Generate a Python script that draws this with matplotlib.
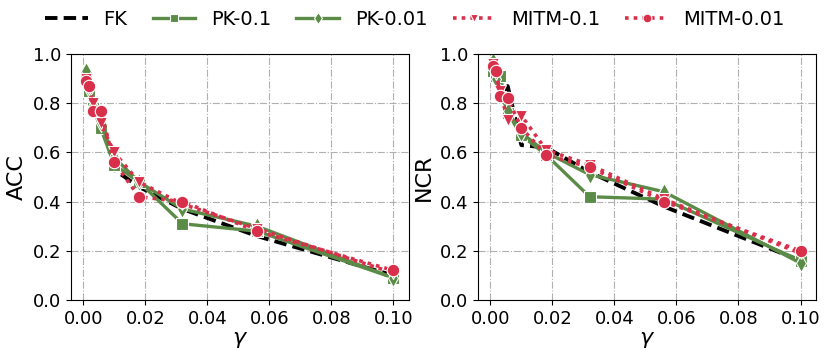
import matplotlib
matplotlib.use("Agg")
import matplotlib.pyplot as plt

# gamma values (log-spaced)
gamma = [0.001, 0.0018, 0.0032, 0.0056, 0.01, 0.018, 0.032, 0.056, 0.1]

# ACC panel
acc_fk = [0.90, 0.87, 0.77, 0.78, 0.53, 0.46, 0.37, 0.26, 0.10]
acc_pk01 = [0.91, 0.85, 0.78, 0.70, 0.55, 0.48, 0.31, 0.28, 0.09]
acc_pk001 = [0.93, 0.86, 0.79, 0.72, 0.58, 0.48, 0.37, 0.30, 0.09]
acc_mitm01 = [0.90, 0.86, 0.80, 0.72, 0.60, 0.48, 0.39, 0.29, 0.11]
acc_mitm001 = [0.89, 0.87, 0.77, 0.77, 0.56, 0.42, 0.40, 0.28, 0.12]

# NCR panel
ncr_fk = [0.95, 0.92, 0.83, 0.87, 0.63, 0.62, 0.52, 0.38, 0.16]
ncr_pk01 = [0.93, 0.91, 0.91, 0.76, 0.67, 0.59, 0.42, 0.41, 0.16]
ncr_pk001 = [0.97, 0.90, 0.84, 0.77, 0.68, 0.60, 0.51, 0.44, 0.15]
ncr_mitm01 = [0.96, 0.92, 0.85, 0.73, 0.75, 0.61, 0.55, 0.41, 0.19]
ncr_mitm001 = [0.95, 0.93, 0.83, 0.82, 0.70, 0.59, 0.54, 0.40, 0.20]

labels = ['FK', 'PK-0.1', 'PK-0.01', 'MITM-0.1', 'MITM-0.01']
GREEN = '#5b8c47'
RED = '#d8304a'
styles = [
    dict(color='black', linestyle=(0, (3.2, 1.6)), marker=None, lw=2.8),
    dict(color=GREEN, linestyle='-', marker='s', lw=2.4),
    dict(color=GREEN, linestyle='-', marker='d', lw=2.4),
    dict(color=RED, linestyle=(0, (1, 1.4)), marker='v', lw=2.6),
    dict(color=RED, linestyle=(0, (1, 1.4)), marker='o', lw=2.6),
]

fig = plt.figure(figsize=(8.3, 3.6), dpi=100)
ax1 = fig.add_axes([0.0855, 0.1667, 0.407, 0.683])
ax2 = fig.add_axes([0.576, 0.1667, 0.407, 0.683])

panels = [
    (ax1, 'ACC', [acc_fk, acc_pk01, acc_pk001, acc_mitm01, acc_mitm001]),
    (ax2, 'NCR', [ncr_fk, ncr_pk01, ncr_pk001, ncr_mitm01, ncr_mitm001]),
]

for ax, ylab, series in panels:
    for vals, lab, st in zip(series, labels, styles):
        ax.plot(gamma, vals, color=st['color'], linestyle=st['linestyle'],
                linewidth=st['lw'], marker=st['marker'], markersize=9,
                markeredgecolor='white', markeredgewidth=0.8, label=lab)
    ax.set_ylim(0, 1.0)
    ax.set_xticks([0.0, 0.02, 0.04, 0.06, 0.08, 0.10])
    ax.set_xticklabels(['0.00', '0.02', '0.04', '0.06', '0.08', '0.10'])
    ax.set_yticks([0.0, 0.2, 0.4, 0.6, 0.8, 1.0])
    ax.tick_params(labelsize=13)
    ax.set_xlabel(r'$\gamma$', fontsize=16, labelpad=2)
    ax.set_ylabel(ylab, fontsize=16)
    ax.grid(True, linestyle='-.', color='#b0b0b0', linewidth=0.8)
    ax.set_axisbelow(True)

handles, lbls = ax1.get_legend_handles_labels()
fig.legend(handles, lbls, loc='upper center', ncol=5, frameon=False,
           fontsize=14, bbox_to_anchor=(0.5, 1.02), handlelength=2.2,
           columnspacing=1.3, markerscale=0.7)

fig.savefig('out.png', dpi=100, facecolor='white')
